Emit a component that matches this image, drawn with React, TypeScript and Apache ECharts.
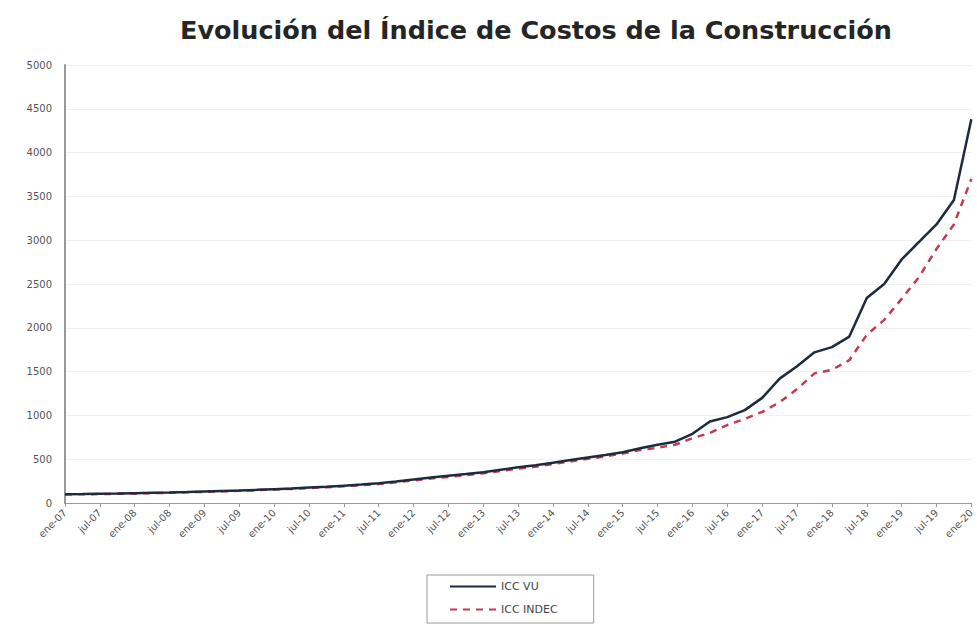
import React, { useEffect, useRef } from "react";
import * as echarts from "echarts";

const titleText = "Evolución del Índice de Costos de la Construcción";

const years = ["07", "08", "09", "10", "11", "12", "13", "14", "15", "16", "17", "18", "19", "20"];
const quarterNames = ["ene", "abr", "jul", "oct"];

// quarterly categories from ene-07 to ene-20
const categories: string[] = [];
years.forEach((y, yi) => {
  quarterNames.forEach((q, qi) => {
    if (yi < years.length - 1 || qi === 0) categories.push(`${q}-${y}`);
  });
});

const iccVU = [
  100, 102, 105, 108, 112, 116, 120, 125, 131, 137,
  143, 150, 158, 166, 176, 186, 198, 210, 225, 245,
  268, 290, 310, 330, 352, 380, 408, 430, 460, 490,
  520, 548, 580, 625, 665, 700, 790, 930, 980, 1060,
  1200, 1420, 1560, 1720, 1780, 1900, 2340, 2500, 2780, 2980,
  3180, 3460, 4380,
];

const iccINDEC = [
  98, 100, 102, 105, 109, 113, 117, 122, 127, 133,
  139, 146, 153, 161, 170, 180, 191, 203, 217, 236,
  258, 280, 298, 318, 340, 366, 392, 415, 445, 475,
  505, 532, 565, 605, 630, 665, 740, 800, 890, 960,
  1040, 1150, 1300, 1480, 1520, 1630, 1920, 2090, 2330, 2580,
  2900, 3180, 3700,
];

const yTicks = { min: 0, max: 5000, interval: 500 };

export default function App() {
  const ref = useRef<HTMLDivElement>(null);

  useEffect(() => {
    if (!ref.current) return;
    const chart = echarts.init(ref.current, null, { renderer: "svg" });
    chart.setOption({
      animation: false,
      backgroundColor: "#ffffff",
      title: {
        text: titleText,
        left: 531,
        top: 12,
        textAlign: "center",
        textStyle: {
          fontFamily: "DejaVu Sans, Verdana, sans-serif",
          fontSize: 25.5,
          fontWeight: "bold",
          color: "#252525",
        },
      },
      legend: {
        orient: "vertical",
        left: 427,
        top: 575,
        itemWidth: 46,
        itemHeight: 10,
        itemGap: 12,
        padding: [6, 36, 8, 22],
        borderColor: "#9a9a9a",
        borderWidth: 1,
        itemStyle: { opacity: 0 },
        textStyle: {
          fontFamily: "DejaVu Sans, Verdana, sans-serif",
          fontSize: 11,
          color: "#444444",
        },
        data: ["ICC VU", "ICC INDEC"],
      },
      grid: {
        left: 65,
        right: 0,
        top: 65,
        bottom: 123,
      },
      xAxis: {
        type: "category",
        data: categories,
        boundaryGap: false,
        axisLine: { lineStyle: { color: "#999999", width: 1 } },
        axisTick: {
          show: true,
          interval: 1,
          length: 4,
          lineStyle: { color: "#999999" },
        },
        axisLabel: {
          interval: 1,
          rotate: 45,
          fontFamily: "DejaVu Sans, Verdana, sans-serif",
          fontSize: 10,
          color: "#555555",
          margin: 8,
        },
        splitLine: { show: false },
      },
      yAxis: {
        type: "value",
        min: yTicks.min,
        max: yTicks.max,
        interval: yTicks.interval,
        axisLine: { show: true, lineStyle: { color: "#999999", width: 2 } },
        axisTick: { show: false },
        axisLabel: {
          fontFamily: "DejaVu Sans, Verdana, sans-serif",
          fontSize: 10,
          color: "#555555",
          margin: 13,
          formatter: (v: number) => String(v),
        },
        splitLine: { show: true, lineStyle: { color: "#f0f0f0", width: 1 } },
      },
      series: [
        {
          name: "ICC VU",
          type: "line",
          data: iccVU,
          symbol: "none",
          smooth: false,
          lineStyle: { color: "#1d2b3c", width: 2.5 },
          itemStyle: { color: "#1d2b3c" },
          z: 3,
        },
        {
          name: "ICC INDEC",
          type: "line",
          data: iccINDEC,
          symbol: "none",
          smooth: false,
          lineStyle: { color: "#c23a52", width: 2.5, type: [7, 6] },
          itemStyle: { color: "#c23a52" },
          z: 2,
        },
      ],
    });
    return () => chart.dispose();
  }, []);

  return (
    <div
      ref={ref}
      style={{ position: "fixed", left: 0, top: 0, width: 977, height: 626 }}
    />
  );
}
